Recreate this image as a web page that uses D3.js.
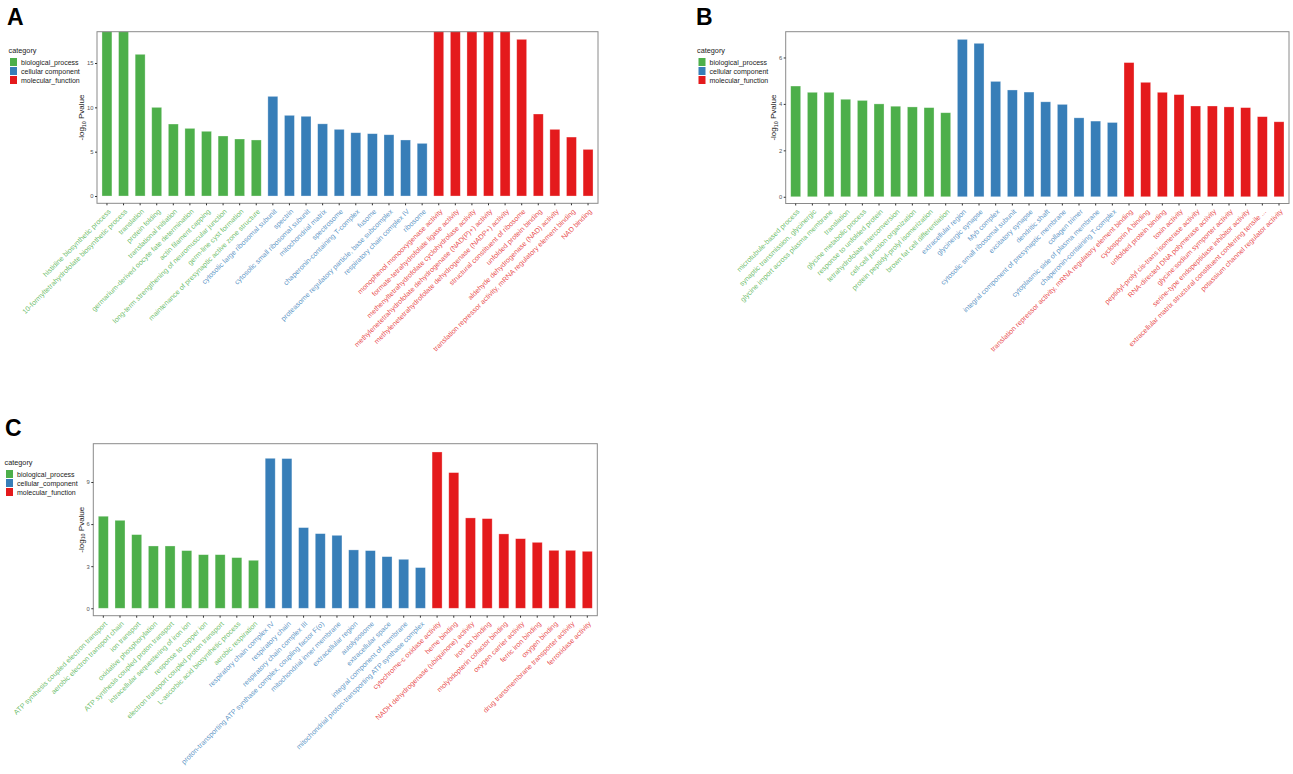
<!DOCTYPE html>
<html>
<head>
<meta charset="utf-8">
<script src="https://cdn.jsdelivr.net/npm/d3@7/dist/d3.min.js"></script>
<style>
body { margin: 0; background: #fff; }
text { font-family: "Liberation Sans", Arial, sans-serif; }
</style>
</head>
<body>
<script>
var width = 1293, height = 774;

// category names and colours
var categories = ["biological_process", "cellular_component", "molecular_function"];
var colors = ["#4daf4a", "#377eb8", "#e41a1c"];

// panel A (bars above 18.5 are cut off by the y limit)
var aBP = ["histidine biosynthetic process", "10-formyltetrahydrofolate biosynthetic process", "translation",
  "protein folding", "translational initiation", "germarium-derived oocyte fate determination",
  "actin filament capping", "long-term strengthening of neuromuscular junction", "germ-line cyst formation",
  "maintenance of presynaptic active zone structure"];
var aBPval = [21, 21, 15.98, 10.0, 8.12, 7.63, 7.3, 6.77, 6.43, 6.32];
var aCC = ["cytosolic large ribosomal subunit", "spectrin", "cytosolic small ribosomal subunit", "mitochondrial matrix",
  "spectrosome", "chaperonin-containing T-complex", "fusome", "proteasome regulatory particle, base subcomplex",
  "respiratory chain complex IV", "ribosome"];
var aCCval = [11.24, 9.1, 8.99, 8.14, 7.52, 7.14, 7.03, 6.91, 6.32, 5.94];
var aMF = ["monophenol monooxygenase activity", "formate-tetrahydrofolate ligase activity",
  "methenyltetrahydrofolate cyclohydrolase activity", "methylenetetrahydrofolate dehydrogenase (NAD(P)+) activity",
  "methylenetetrahydrofolate dehydrogenase (NADP+) activity", "structural constituent of ribosome",
  "unfolded protein binding", "aldehyde dehydrogenase (NAD) activity",
  "translation repressor activity, mRNA regulatory element binding", "NAD binding"];
var aMFval = [21, 21, 21, 21, 21, 17.67, 9.25, 7.52, 6.65, 5.26];
var aTicks = [0, 5, 10, 15];

// panel B
var bBP = ["microtubule-based process", "synaptic transmission, glycinergic", "glycine import across plasma membrane",
  "translation", "glycine metabolic process", "response to unfolded protein", "tetrahydrofolate interconversion",
  "cell-cell junction organization", "protein peptidyl-prolyl isomerization", "brown fat cell differentiation"];
var bBPval = [4.77, 4.5, 4.5, 4.2, 4.15, 4.0, 3.9, 3.87, 3.84, 3.62];
var bCC = ["extracellular region", "glycinergic synapse", "Myb complex", "cytosolic small ribosomal subunit",
  "excitatory synapse", "dendritic shaft", "integral component of presynaptic membrane", "collagen trimer",
  "cytoplasmic side of plasma membrane", "chaperonin-containing T-complex"];
var bCCval = [6.78, 6.61, 4.97, 4.6, 4.51, 4.09, 3.98, 3.4, 3.26, 3.2];
var bMF = ["translation repressor activity, mRNA regulatory element binding", "cyclosporin A binding",
  "unfolded protein binding", "toxin activity", "peptidyl-prolyl cis-trans isomerase activity",
  "RNA-directed DNA polymerase activity", "glycine:sodium symporter activity",
  "serine-type endopeptidase inhibitor activity", "extracellular matrix structural constituent conferring tensile ...",
  "potassium channel regulator activity"];
var bMFval = [5.78, 4.93, 4.5, 4.4, 3.91, 3.91, 3.87, 3.84, 3.45, 3.23];
var bTicks = [0, 2, 4, 6];

// panel C
var cBP = ["ATP synthesis coupled electron transport", "aerobic electron transport chain", "ion transport",
  "oxidative phosphorylation", "ATP synthesis coupled proton transport", "intracellular sequestering of iron ion",
  "response to copper ion", "electron transport coupled proton transport", "L-ascorbic acid biosynthetic process",
  "aerobic respiration"];
var cBPval = [6.56, 6.27, 5.25, 4.44, 4.44, 4.11, 3.82, 3.82, 3.61, 3.42];
var cCC = ["respiratory chain complex IV", "respiratory chain", "respiratory chain complex III",
  "proton-transporting ATP synthase complex, coupling factor F(o)", "mitochondrial inner membrane",
  "extracellular region", "autolysosome", "extracellular space", "integral component of membrane",
  "mitochondrial proton-transporting ATP synthase complex"];
var cCCval = [10.69, 10.67, 5.75, 5.32, 5.2, 4.16, 4.11, 3.68, 3.49, 2.9];
var cMF = ["cytochrome-c oxidase activity", "heme binding", "NADH dehydrogenase (ubiquinone) activity",
  "iron ion binding", "molybdopterin cofactor binding", "oxygen carrier activity", "ferric iron binding",
  "oxygen binding", "drug transmembrane transporter activity", "ferroxidase activity"];
var cMFval = [11.14, 9.67, 6.44, 6.39, 5.3, 4.96, 4.7, 4.13, 4.13, 4.06];
var cTicks = [0, 3, 6, 9];

function rows(bp, bpv, cc, ccv, mf, mfv) {
  var out = [];
  bp.forEach(function (t, i) { out.push({ term: t, value: bpv[i], cat: 0, key: "bp" + i }); });
  cc.forEach(function (t, i) { out.push({ term: t, value: ccv[i], cat: 1, key: "cc" + i }); });
  mf.forEach(function (t, i) { out.push({ term: t, value: mfv[i], cat: 2, key: "mf" + i }); });
  return out;
}

var svg = d3.select("body").append("svg")
  .attr("width", width)
  .attr("height", height);

function drawPanel(p) {
  var data = p.data;
  var x = d3.scaleBand()
    .domain(data.map(function (d) { return d.key; }))
    .range([p.x0, p.x1])
    .paddingInner(0.4)
    .paddingOuter(0.3);
  var y = d3.scaleLinear().domain(p.ydom).range([p.y1, p.y0]);

  var g = svg.append("g");
  var clipId = "clip" + p.letter;
  g.append("clipPath").attr("id", clipId)
    .append("rect")
    .attr("x", p.x0).attr("y", p.y0)
    .attr("width", p.x1 - p.x0).attr("height", p.y1 - p.y0);

  // bars
  g.append("g").attr("clip-path", "url(#" + clipId + ")")
    .selectAll("rect")
    .data(data)
    .enter()
    .append("rect")
    .attr("x", function (d) { return x(d.key); })
    .attr("y", function (d) { return y(d.value); })
    .attr("width", x.bandwidth())
    .attr("height", function (d) { return y(0) - y(d.value); })
    .attr("fill", function (d) { return colors[d.cat]; })
    .attr("stroke", "#ffffff")
    .attr("stroke-opacity", 0.45)
    .attr("stroke-width", 0.7);

  // frame
  g.append("rect")
    .attr("x", p.x0).attr("y", p.y0)
    .attr("width", p.x1 - p.x0).attr("height", p.y1 - p.y0)
    .attr("fill", "none")
    .attr("stroke", "#8a8a8a")
    .attr("stroke-width", 1);

  // y axis
  var yAxis = d3.axisLeft(y).tickValues(p.ticks).tickSize(2).tickPadding(1.5);
  var ya = g.append("g").attr("transform", "translate(" + p.x0 + ",0)").call(yAxis);
  ya.select(".domain").remove();
  ya.selectAll(".tick line").attr("stroke", "#333");
  ya.selectAll(".tick text").attr("fill", "#555").attr("font-size", 5.8)
    .attr("font-family", "Liberation Sans, Arial, sans-serif");

  // x axis
  var xAxis = d3.axisBottom(x).tickSize(2).tickFormat("");
  var xa = g.append("g").attr("transform", "translate(0," + p.y1 + ")").call(xAxis);
  xa.select(".domain").remove();
  xa.selectAll(".tick line").attr("stroke", "#333");

  g.append("g").selectAll("text")
    .data(data)
    .enter()
    .append("text")
    .attr("transform", function (d) {
      var cx = x(d.key) + x.bandwidth() / 2 + 4.3;
      return "translate(" + cx + "," + (p.y1 + 8.6) + ") rotate(-45)";
    })
    .attr("text-anchor", "end")
    .attr("font-size", 7.1)
    .attr("fill", function (d) { return colors[d.cat]; })
    .attr("fill-opacity", 0.82)
    .text(function (d) { return d.term; });

  // y title
  var yt = g.append("text")
    .attr("transform", "translate(" + p.ytx + "," + ((p.y0 + p.y1) / 2) + ") rotate(-90)")
    .attr("text-anchor", "middle")
    .attr("font-size", 8)
    .attr("fill", "#222");
  yt.append("tspan").text("-log");
  yt.append("tspan").attr("font-size", 5.3).attr("dy", 1.9).text("10");
  yt.append("tspan").attr("dy", -1.9).text(" Pvalue");

  // panel letter
  g.append("text")
    .attr("x", p.lx).attr("y", p.ly)
    .attr("font-size", 23)
    .attr("font-weight", "bold")
    .attr("fill", "#000")
    .text(p.letter);

  // legend
  var lg = g.append("g").attr("transform", "translate(" + p.legx + "," + p.legy + ")");
  lg.append("text").attr("x", 0).attr("y", 0).attr("font-size", 7.3).attr("fill", "#222").text("category");
  p.legendNames.forEach(function (name, i) {
    lg.append("rect")
      .attr("x", 1.5).attr("y", 5 + i * 9)
      .attr("width", 7).attr("height", 8)
      .attr("fill", colors[i]);
    lg.append("text")
      .attr("x", 12.5).attr("y", 11.8 + i * 9)
      .attr("font-size", 7).attr("fill", "#222")
      .text(name);
  });
}

drawPanel({
  letter: "A", data: rows(aBP, aBPval, aCC, aCCval, aMF, aMFval), ticks: aTicks,
  x0: 97, x1: 598, y0: 31.7, y1: 203.3, ydom: [-0.82, 18.53],
  ytx: 84, lx: 7, ly: 25, legx: 8.5, legy: 53,
  legendNames: ["biological_process", "cellular component", "molecular_function"]
});
drawPanel({
  letter: "B", data: rows(bBP, bBPval, bCC, bCCval, bMF, bMFval), ticks: bTicks,
  x0: 785.7, x1: 1289, y0: 31.7, y1: 203.5, ydom: [-0.29, 7.11],
  ytx: 776, lx: 696, ly: 25, legx: 697, legy: 53,
  legendNames: ["biological_process", "cellular component", "molecular_function"]
});
drawPanel({
  letter: "C", data: rows(cBP, cBPval, cCC, cCCval, cMF, cMFval), ticks: cTicks,
  x0: 93.3, x1: 597.3, y0: 443.7, y1: 615.7, ydom: [-0.53, 11.73],
  ytx: 83.5, lx: 5, ly: 435.5, legx: 4.5, legy: 465,
  legendNames: ["biological_process", "cellular_component", "molecular_function"]
});
</script>
</body>
</html>
